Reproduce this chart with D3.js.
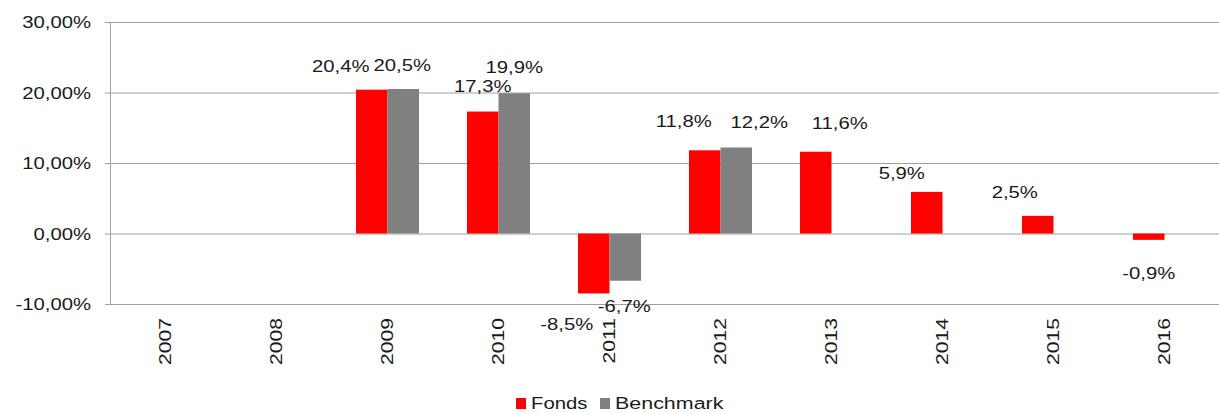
<!DOCTYPE html>
<html>
<head>
<meta charset="utf-8">
<script src="https://cdn.jsdelivr.net/npm/d3@7"></script>
<style>
  body { margin: 0; background: #fff; }
  text { font-family: "Liberation Sans", Arial, sans-serif; fill: #1a1a1a; }
</style>
</head>
<body>
<div id="drawing"></div>
<script>
const width = 1219;
const height = 414;

// data
const years = ["2007", "2008", "2009", "2010", "2011", "2012", "2013", "2014", "2015", "2016"];
const fonds = [null, null, 20.4, 17.3, -8.5, 11.8, 11.6, 5.9, 2.5, -0.9];
const benchmark = [null, null, 20.5, 19.9, -6.7, 12.2, null, null, null, null];
const yTicks = [-10, 0, 10, 20, 30];
const seriesNames = ["Fonds", "Benchmark"];
const seriesColors = ["#ff0000", "#808080"];

// labels in the original were moved by hand, these are the nudges [dx, dy]
const fondsNudge = [[0,0],[0,0],[-31,2],[0,0],[-27,6],[-21,-4],[24,-4],[-25,6],[-23,1],[0,8]];
const benchNudge = [[0,0],[0,0],[-1,1],[0,-1],[-1,0],[23,0],[0,0],[0,0],[0,0],[0,0]];

const plot = {left: 110, right: 1220, top: 22, bottom: 304};
const stretch = 1.23;   // the text in the picture is wider than normal

const loc = d3.formatLocale({decimal: ",", thousands: ".", grouping: [3], currency: ["", " €"], minus: "-"});
const tickFmt = (d) => loc.format(".2f")(d) + "%";
const labelFmt = (d) => loc.format(".1f")(d) + "%";

const svg = d3.select("#drawing").append("svg")
  .attr("width", width)
  .attr("height", height);

const xScale = d3.scaleBand()
  .domain(years)
  .range([plot.left, plot.right])
  .paddingInner(0.432)
  .paddingOuter(0.216);

const xSub = d3.scaleBand()
  .domain(seriesNames)
  .range([0, xScale.bandwidth()]);

const yScale = d3.scaleLinear()
  .domain([-10, 30])
  .range([plot.bottom, plot.top]);

// gridlines
const grid = svg.append("g")
  .attr("transform", `translate(${plot.left},0)`)
  .call(d3.axisLeft(yScale).tickValues(yTicks).tickSize(-(plot.right - plot.left)).tickFormat(""));
grid.select(".domain").remove();
grid.selectAll("line").attr("stroke", "#a0a0a0");

// y axis with small ticks
const yAxis = svg.append("g")
  .attr("transform", `translate(${plot.left},0)`)
  .call(d3.axisLeft(yScale).tickValues(yTicks).tickSize(5).tickFormat(tickFmt));
yAxis.select(".domain").attr("stroke", "#a0a0a0");
yAxis.selectAll("line").attr("stroke", "#a0a0a0");
yAxis.selectAll("text")
  .attr("x", -19 / stretch)
  .attr("dy", "0.35em")
  .attr("transform", `scale(${stretch},1)`)
  .style("font-size", "16.5px")
  .style("font-family", "Liberation Sans, Arial, sans-serif")
  .attr("fill", "#1a1a1a");

// bars
const rows = years.map((y, i) => ({year: y, values: [fonds[i], benchmark[i]], nudge: [fondsNudge[i], benchNudge[i]]}));
const cells = [];
rows.forEach((r) => {
  r.values.forEach((v, k) => {
    if (v !== null) cells.push({year: r.year, series: seriesNames[k], color: seriesColors[k], value: v, nudge: r.nudge[k]});
  });
});

svg.append("g").selectAll("rect")
  .data(cells)
  .enter()
  .append("rect")
    .attr("x", (d) => xScale(d.year) + xSub(d.series))
    .attr("width", xSub.bandwidth())
    .attr("y", (d) => yScale(Math.max(0, d.value)))
    .attr("height", (d) => Math.abs(yScale(d.value) - yScale(0)))
    .attr("fill", (d) => d.color);

// data labels
svg.append("g").selectAll("g")
  .data(cells)
  .enter()
  .append("g")
    .attr("transform", (d) => {
      const cx = xScale(d.year) + xSub(d.series) + xSub.bandwidth() / 2 + d.nudge[0];
      const cy = yScale(d.value) + (d.value >= 0 ? -25 : 25) + d.nudge[1];
      return `translate(${cx},${cy}) scale(${stretch},1)`;
    })
  .append("text")
    .attr("text-anchor", "middle")
    .attr("dy", "0.35em")
    .style("font-size", "16.5px")
    .text((d) => labelFmt(d.value));

// x labels, rotated
svg.append("g").selectAll("g")
  .data(years)
  .enter()
  .append("g")
    .attr("transform", (d) => `translate(${xScale(d) + xScale.bandwidth() / 2},318) rotate(-90) scale(1.28,1)`)
  .append("text")
    .attr("text-anchor", "end")
    .attr("dy", "0.35em")
    .style("font-size", "16.5px")
    .text((d) => d);

// legend
const legend = svg.append("g").attr("transform", "translate(516,398)");
const legendX = [0, 84];
seriesNames.forEach((name, i) => {
  const item = legend.append("g").attr("transform", `translate(${legendX[i]},0)`);
  item.append("rect")
    .attr("width", 10)
    .attr("height", 11)
    .attr("fill", seriesColors[i]);
  item.append("g")
    .attr("transform", `translate(15,5.5) scale(${i === 1 ? 1.3 : stretch},1)`)
    .append("text")
      .attr("dy", "0.36em")
      .style("font-size", "16.5px")
      .text(name);
});
</script>
</body>
</html>
